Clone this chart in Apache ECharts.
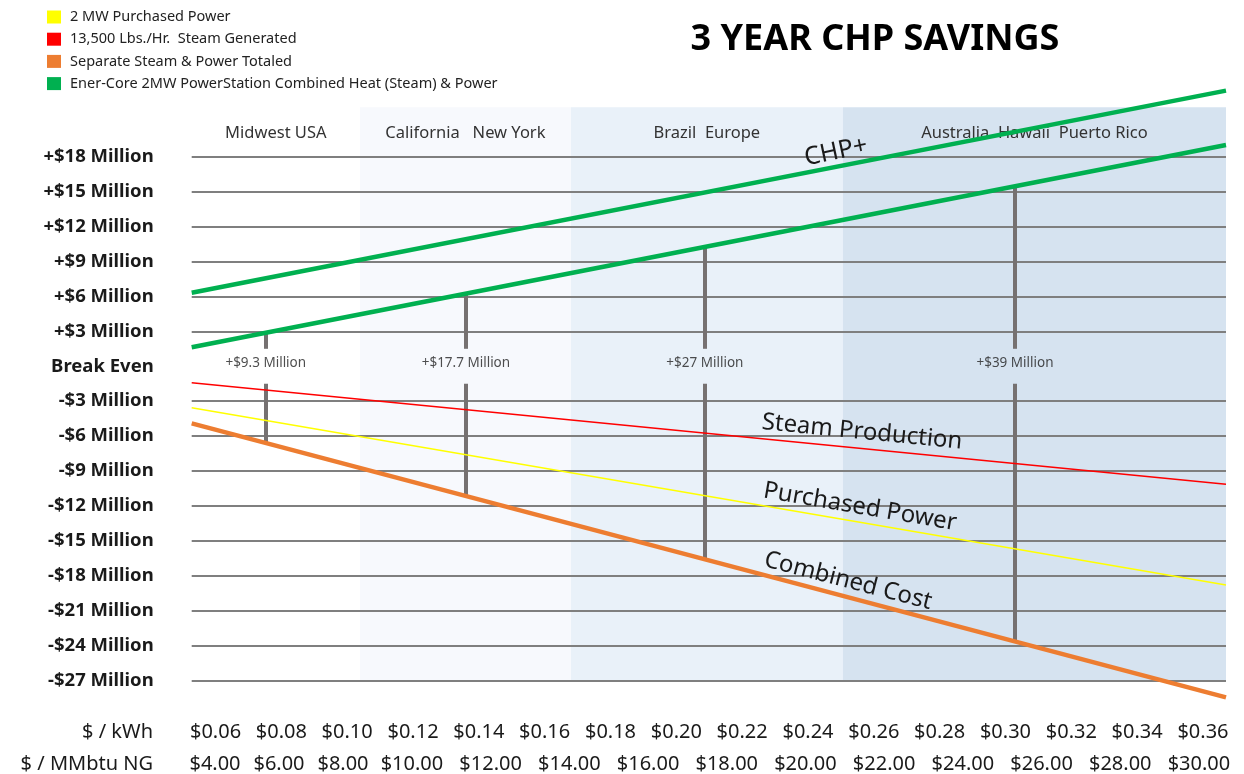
<!DOCTYPE html>
<html>
<head>
<meta charset="utf-8">
<script src="https://cdn.jsdelivr.net/npm/echarts@6/dist/echarts.min.js"></script>
<style>
	html, body { margin: 0; padding: 0; background: #fff; }
	#chart { width: 1244px; height: 774px; }
</style>
</head>
<body>
<div id="chart"></div>
<script>
let kwhTicks = ["$0.06", "$0.08", "$0.10", "$0.12", "$0.14", "$0.16", "$0.18", "$0.20", "$0.22", "$0.24", "$0.26", "$0.28", "$0.30", "$0.32", "$0.34", "$0.36"];
let ngTicks = ["$4.00", "$6.00", "$8.00", "$10.00", "$12.00", "$14.00", "$16.00", "$18.00", "$20.00", "$22.00", "$24.00", "$26.00", "$28.00", "$30.00"];
let yTicks = [-27, -24, -21, -18, -15, -12, -9, -6, -3, 0, 3, 6, 9, 12, 15, 18];

// $/kWh at the two ends of each straight line, values in $ million
let lineX = [0.0528, 0.367];
let purchasedPower = [-3.56, -18.78];
let steamGenerated = [-1.41, -10.13];
let combinedCost = [-4.9, -28.43];
let chpLine = [1.63, 19.0];
let chpPlusLine = [6.32, 23.67];

let regionNames = ["Midwest USA", "California   New York", "Brazil  Europe", "Australia  Hawaii  Puerto Rico"];
let regionEdges = [0.0528, 0.1039, 0.168, 0.2506, 0.367];
let regionTop = 22.24;

let markerX = [0.0753, 0.1361, 0.2087, 0.3029];
let markerTop = [2.9, 6.2, 10.2, 15.5];
let markerBottom = [-6.6, -11.1, -16.6, -23.6];
let markerLabels = ["+$9.3 Million", "+$17.7 Million", "+$27 Million", "+$39 Million"];

let legendNames = [
	"2 MW Purchased Power",
	"13,500 Lbs./Hr.  Steam Generated",
	"Separate Steam & Power Totaled",
	"Ener-Core 2MW PowerStation Combined Heat (Steam) & Power",
];

let echarts = window.echarts;
let myChart = echarts.init(document.getElementById("chart"));
let font = "'Noto Sans', sans-serif";
let gray = "#7f7f7f";
let shadeColors = ["#ffffff", "#f7f9fd", "#e9f1f9", "#d6e3f0"];

// split lines at -30..24, hide the ones without a label and break even
let gridColors = [];
for (let v = -30; v <= 24; v += 3) {
	gridColors.push(yTicks.indexOf(v) >= 0 && v !== 0 ? gray : "rgba(0,0,0,0)");
}

let pairs = (ys) => lineX.map((x, i) => [x, ys[i]]);

let regionData = regionNames.map((name, i) => {
	return [
		{ name: name, xAxis: regionEdges[i], yAxis: -27, itemStyle: { color: shadeColors[i] } },
		{ xAxis: regionEdges[i + 1], yAxis: regionTop },
	];
});

let markerData = [];
markerX.forEach((x, i) => {
	markerData.push([{ coord: [x, markerTop[i]] }, { coord: [x, 1.5] }]);
	markerData.push([{ coord: [x, -1.5] }, { coord: [x, markerBottom[i]] }]);
});

let lineSeries = function (name, ys, color, width) {
	return {
		name: name,
		type: "line",
		xAxisIndex: 0,
		yAxisIndex: 0,
		symbol: "none",
		z: 4,
		itemStyle: { color: color },
		lineStyle: { color: color, width: width },
		data: pairs(ys),
	};
};

let tickAxis = function (gridIndex, data, name, nameGap) {
	return {
		type: "category",
		gridIndex: gridIndex,
		data: data,
		boundaryGap: true,
		axisLine: { show: false },
		axisTick: { show: false },
		axisLabel: { margin: 5, fontSize: 20, color: "#1a1a1a", interval: 0, fontFamily: font },
		name: name,
		nameLocation: "start",
		nameGap: nameGap,
		nameTextStyle: { fontSize: 20, color: "#1a1a1a", align: "right", verticalAlign: "top", padding: [5, 0, 0, 0], fontFamily: font },
	};
};

let option = {
	animation: false,
	textStyle: { fontFamily: font },
	title: {
		text: "3 YEAR CHP SAVINGS",
		left: 870,
		top: 17,
		textAlign: "center",
		textStyle: { fontSize: 36, fontWeight: "bold", color: "#000", fontFamily: font },
	},
	legend: {
		orient: "vertical",
		left: 42,
		top: 4.5,
		itemWidth: 14,
		itemHeight: 13,
		itemGap: 7.2,
		icon: "rect",
		textStyle: { fontSize: 14.5, color: "#222", fontFamily: font, padding: [0, 0, 0, 4] },
		data: legendNames,
	},
	grid: [
		{ left: 191.7, right: 18, top: 86.8, height: 628.8 },
		{ left: 182.6, width: 1053.3, top: 716, height: 1 },
		{ left: 183, width: 192, top: 748, height: 1 },
		{ left: 372.6, width: 865.7, top: 748, height: 1 },
	],
	xAxis: [
		{
			type: "value",
			gridIndex: 0,
			min: lineX[0],
			max: lineX[1],
			axisLine: { show: false },
			axisTick: { show: false },
			axisLabel: { show: false },
			splitLine: { show: false },
		},
		tickAxis(1, kwhTicks, "$ / kWh", 29.6),
		tickAxis(2, ngTicks.slice(0, 3), "$ / MMbtu NG", 30),
		tickAxis(3, ngTicks.slice(3), "", 0),
	],
	yAxis: [
		{
			type: "value",
			gridIndex: 0,
			min: -30,
			max: 24,
			interval: 3,
			z: 0,
			axisLine: { show: false },
			axisTick: { show: false },
			axisLabel: {
				margin: 38,
				fontSize: 18.5,
				fontWeight: "bold",
				color: "#1a1a1a",
				fontFamily: font,
				formatter: function (v) {
					if (yTicks.indexOf(v) < 0) return "";
					if (v === 0) return "Break Even";
					return v > 0 ? "+$" + v + " Million" : "-$" + -v + " Million";
				},
			},
			splitLine: { show: true, lineStyle: { color: gridColors, width: 2 } },
		},
		{ type: "value", gridIndex: 1, show: false },
		{ type: "value", gridIndex: 2, show: false },
		{ type: "value", gridIndex: 3, show: false },
	],
	series: [
		{
			name: "regions",
			type: "line",
			xAxisIndex: 0,
			yAxisIndex: 0,
			z: -1,
			data: [],
			markArea: {
				z: -1,
				silent: true,
				label: { show: true, position: "insideTop", distance: 18, fontSize: 16.5, color: "#333", fontFamily: font },
				data: regionData,
			},
		},
		{
			name: "markers",
			type: "line",
			xAxisIndex: 0,
			yAxisIndex: 0,
			z: 3,
			data: [],
			markLine: {
				z: 3,
				silent: true,
				symbol: ["none", "none"],
				label: { show: false },
				lineStyle: { color: "#767171", width: 4, type: "solid" },
				data: markerData,
			},
		},
		{
			name: "marker labels",
			type: "scatter",
			xAxisIndex: 0,
			yAxisIndex: 0,
			symbolSize: 1,
			z: 5,
			itemStyle: { color: "rgba(0,0,0,0)" },
			label: { show: true, position: "inside", offset: [0, -3], fontSize: 13.5, color: "#222", fontFamily: font },
			data: markerX.map((x, i) => {
				return { value: [x, 0], label: { formatter: markerLabels[i] } };
			}),
		},
		lineSeries(legendNames[0], purchasedPower, "#ffff00", 1.5),
		lineSeries(legendNames[1], steamGenerated, "#ff0000", 1.5),
		lineSeries(legendNames[2], combinedCost, "#ed7d31", 4.5),
		lineSeries(legendNames[3], chpLine, "#00b050", 4.5),
		lineSeries(legendNames[3], chpPlusLine, "#00b050", 4.5),
	],
	graphic: [
		{ type: "text", x: 836, y: 152, rotation: (12 * Math.PI) / 180, z: 10,
			style: { text: "CHP+", fontSize: 25, fontFamily: font, fill: "#1a1a1a", align: "center", verticalAlign: "middle" } },
		{ type: "text", x: 862, y: 432, rotation: (-5.6 * Math.PI) / 180, z: 10,
			style: { text: "Steam Production", fontSize: 24, fontFamily: font, fill: "#1a1a1a", align: "center", verticalAlign: "middle" } },
		{ type: "text", x: 860, y: 507, rotation: (-9.7 * Math.PI) / 180, z: 10,
			style: { text: "Purchased Power", fontSize: 24, fontFamily: font, fill: "#1a1a1a", align: "center", verticalAlign: "middle" } },
		{ type: "text", x: 848, y: 581, rotation: (-14.5 * Math.PI) / 180, z: 10,
			style: { text: "Combined Cost", fontSize: 24, fontFamily: font, fill: "#1a1a1a", align: "center", verticalAlign: "middle" } },
	],
};

myChart.setOption(option);
</script>
</body>
</html>
